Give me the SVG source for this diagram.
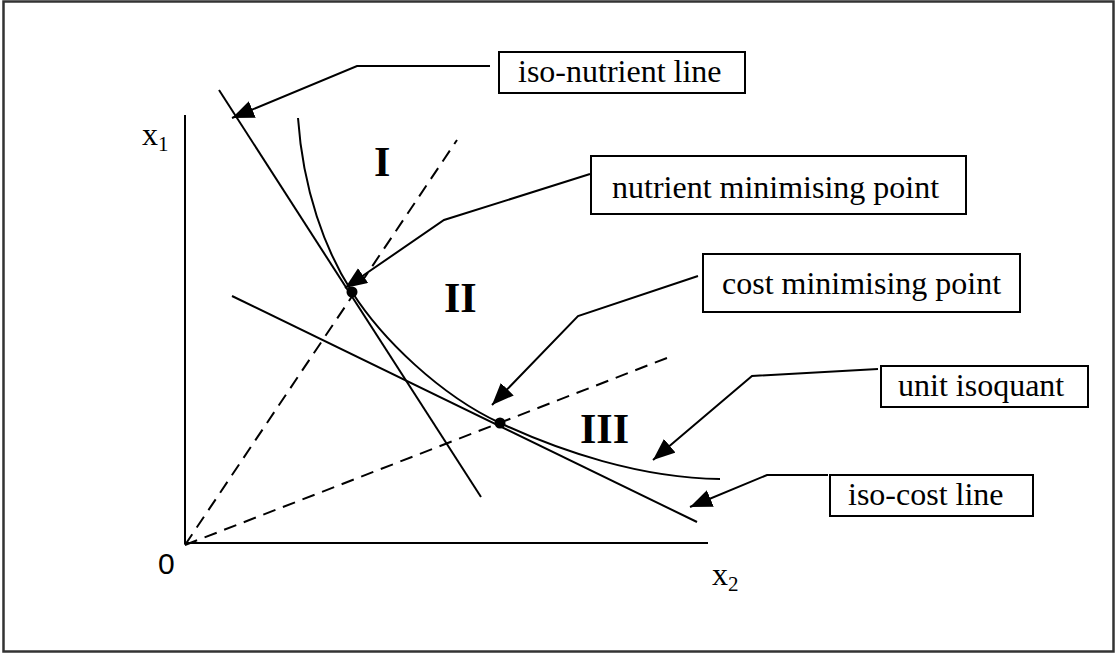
<svg xmlns="http://www.w3.org/2000/svg" width="1116" height="654" viewBox="0 0 1116 654">
<defs>
<style>
.ln{fill:none;stroke:#000;stroke-width:2}
.ds{fill:none;stroke:#000;stroke-width:2;stroke-dasharray:13,8}
.box{fill:#fff;stroke:#000;stroke-width:2}
.lbl{font-family:"Liberation Serif","Times New Roman",serif;font-size:32px;fill:#000}
.reg{font-family:"Liberation Serif","Times New Roman",serif;font-size:42px;font-weight:bold;fill:#000}
.ax{font-family:"Liberation Serif","Times New Roman",serif;font-size:32px;fill:#000}
.zero{font-family:"Liberation Sans",Arial,sans-serif;font-size:30px;fill:#000}
</style>
<marker id="ah" markerUnits="userSpaceOnUse" markerWidth="24" markerHeight="18" refX="22" refY="9" orient="auto">
<path d="M0,0 L22,9 L0,18 z" fill="#000"/>
</marker>
</defs>
<rect x="0" y="0" width="1116" height="654" fill="#fff"/>
<rect x="3.5" y="1.5" width="1110" height="650" fill="none" stroke="#333" stroke-width="2.5"/>

<g id="axes">
<line class="ln" x1="185" y1="115" x2="185" y2="544"/>
<line class="ln" x1="184" y1="543" x2="708" y2="543"/>
<text class="ax" x="142" y="145">x<tspan font-size="21" dy="6">1</tspan></text>
<text class="ax" x="712" y="585">x<tspan font-size="21" dy="6">2</tspan></text>
<text class="zero" x="158" y="574">0</text>
</g>

<g id="curves">
<line id="iso-nutrient" class="ln" x1="219" y1="90" x2="481" y2="497"/>
<line id="iso-cost" class="ln" x1="232" y1="296" x2="697" y2="522"/>
<path id="isoquant" class="ln" d="M298,118 C303,190 325,250 352,292 C382,339 440,395 500,423 C560,451 640,478 720,479"/>
<line class="ds" x1="185" y1="545" x2="457" y2="140"/>
<line class="ds" x1="185" y1="545" x2="672" y2="356"/>
<circle cx="352" cy="292" r="5.5" fill="#000"/>
<circle cx="500" cy="423" r="5.5" fill="#000"/>
</g>

<g id="regions">
<text class="reg" x="374" y="176">I</text>
<text class="reg" x="444" y="312">II</text>
<text class="reg" x="580" y="443">III</text>
</g>

<g id="connectors">
<polyline class="ln" points="490,66 357,66 232,118" marker-end="url(#ah)"/>
<polyline class="ln" points="590,174 444,220 345,288" marker-end="url(#ah)"/>
<polyline class="ln" points="698,276 578,316 492,405" marker-end="url(#ah)"/>
<polyline class="ln" points="878,369 752,376 653,460" marker-end="url(#ah)"/>
<polyline class="ln" points="828,475 767,475 690,507" marker-end="url(#ah)"/>
</g>

<g id="n-iso-nutrient">
<rect class="box" x="499" y="52" width="246" height="41"/>
<text class="lbl" x="518" y="82">iso-nutrient line</text>
</g>
<g id="n-nutrient-min">
<rect class="box" x="591" y="156" width="375" height="58"/>
<text class="lbl" x="612" y="198">nutrient minimising point</text>
</g>
<g id="n-cost-min">
<rect class="box" x="703" y="254" width="317" height="58"/>
<text class="lbl" x="722" y="294">cost minimising point</text>
</g>
<g id="n-unit-isoquant">
<rect class="box" x="881" y="366" width="207" height="41"/>
<text class="lbl" x="898" y="396">unit isoquant</text>
</g>
<g id="n-iso-cost">
<rect class="box" x="830" y="475" width="203" height="41"/>
<text class="lbl" x="848" y="505">iso-cost line</text>
</g>
</svg>
